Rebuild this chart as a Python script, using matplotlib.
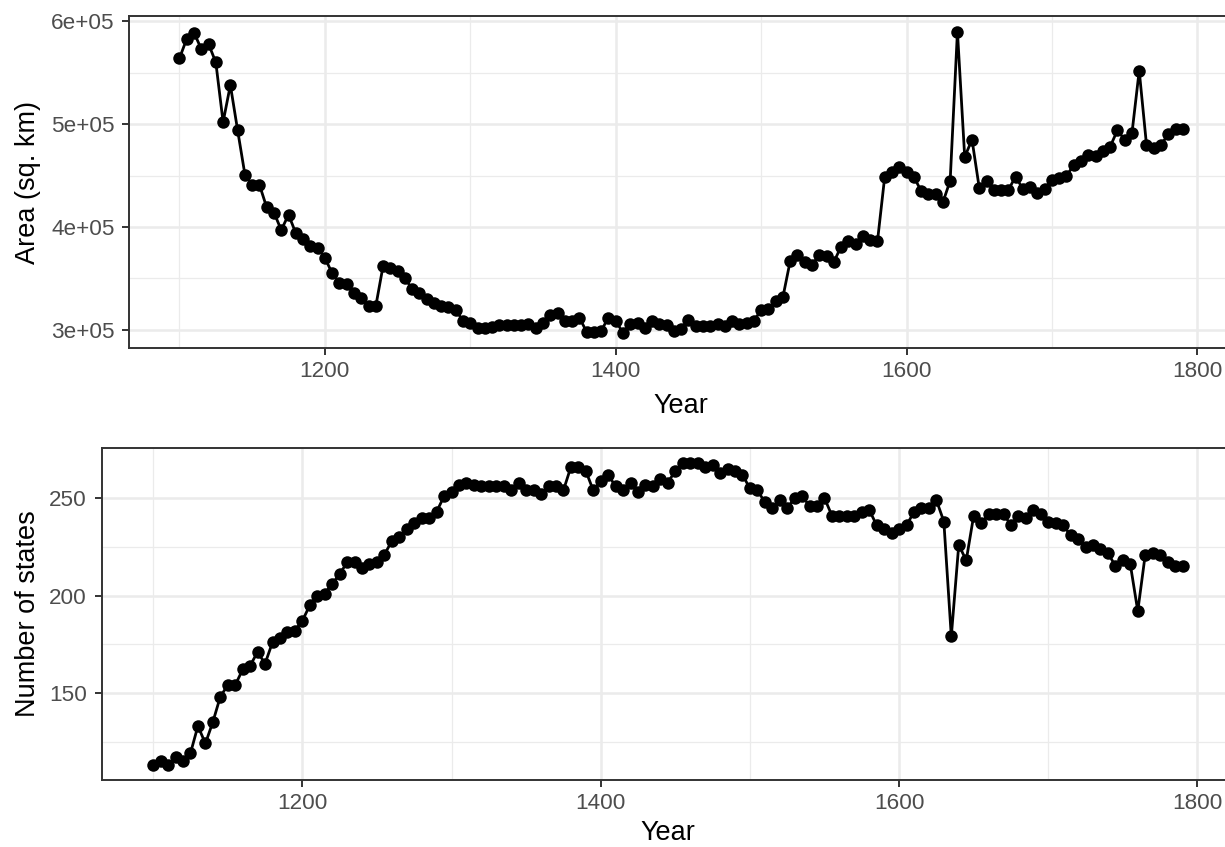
import matplotlib
matplotlib.use("Agg")
import matplotlib.pyplot as plt
from matplotlib.ticker import FixedLocator, FixedFormatter

plt.rcParams['font.family'] = ['Liberation Sans', 'DejaVu Sans']

years = [1100, 1105, 1110, 1115, 1120, 1125, 1130, 1135, 1140, 1145, 1150, 1155, 1160, 1165, 1170, 1175,
         1180, 1185, 1190, 1195, 1200, 1205, 1210, 1215, 1220, 1225, 1230, 1235, 1240, 1245, 1250, 1255,
         1260, 1265, 1270, 1275, 1280, 1285, 1290, 1295, 1300, 1305, 1310, 1315, 1320, 1325, 1330, 1335,
         1340, 1345, 1350, 1355, 1360, 1365, 1370, 1375, 1380, 1385, 1390, 1395, 1400, 1405, 1410, 1415,
         1420, 1425, 1430, 1435, 1440, 1445, 1450, 1455, 1460, 1465, 1470, 1475, 1480, 1485, 1490, 1495,
         1500, 1505, 1510, 1515, 1520, 1525, 1530, 1535, 1540, 1545, 1550, 1555, 1560, 1565, 1570, 1575,
         1580, 1585, 1590, 1595, 1600, 1605, 1610, 1615, 1620, 1625, 1630, 1635, 1640, 1645, 1650, 1655,
         1660, 1665, 1670, 1675, 1680, 1685, 1690, 1695, 1700, 1705, 1710, 1715, 1720, 1725, 1730, 1735,
         1740, 1745, 1750, 1755, 1760, 1765, 1770, 1775, 1780, 1785, 1790]

area = [564000, 583000, 589000, 573000, 578000, 560000, 502000, 538000, 494000, 451000, 441000, 441000,
        419000, 414000, 397000, 412000, 394000, 388000, 382000, 380000, 370000, 355000, 346000, 345000,
        336000, 331000, 323000, 323000, 362000, 360000, 357000, 350000, 340000, 336000, 330000, 326000,
        323000, 322000, 319000, 309000, 307000, 302000, 302000, 303000, 305000, 305000, 305000, 305000,
        306000, 302000, 307000, 314000, 316000, 309000, 309000, 312000, 298000, 298000, 299000, 312000,
        309000, 297000, 306000, 307000, 302000, 309000, 306000, 305000, 299000, 301000, 310000, 304000,
        304000, 304000, 306000, 304000, 309000, 306000, 307000, 309000, 319000, 320000, 328000, 332000,
        367000, 373000, 366000, 363000, 373000, 372000, 366000, 381000, 386000, 383000, 391000, 387000,
        386000, 449000, 453000, 458000, 453000, 449000, 435000, 432000, 432000, 424000, 445000, 590000,
        468000, 485000, 438000, 445000, 436000, 436000, 436000, 449000, 437000, 439000, 433000, 437000,
        446000, 448000, 450000, 460000, 464000, 470000, 469000, 474000, 478000, 494000, 485000, 491000,
        552000, 480000, 477000, 480000, 490000, 495000, 495000]

states = [113, 115, 113, 117, 115, 119, 133, 124, 135, 148, 154, 154, 162, 164, 171, 165,
          176, 178, 181, 182, 187, 195, 200, 201, 206, 211, 217, 217, 214, 216, 217, 221,
          228, 230, 234, 237, 240, 240, 243, 251, 253, 257, 258, 257, 256, 256, 256, 256,
          254, 258, 254, 254, 252, 256, 256, 254, 266, 266, 264, 254, 259, 262, 256, 254,
          258, 253, 257, 256, 260, 258, 264, 268, 268, 268, 266, 267, 263, 265, 264, 262,
          255, 254, 248, 245, 249, 245, 250, 251, 246, 246, 250, 241, 241, 241, 241, 243,
          244, 236, 234, 232, 234, 236, 243, 245, 245, 249, 238, 179, 226, 218, 241, 237,
          242, 242, 242, 236, 241, 240, 244, 242, 238, 237, 236, 231, 229, 225, 226, 224,
          222, 215, 218, 216, 192, 221, 222, 221, 217, 215, 215]

x_ticks = [1200, 1400, 1600, 1800]
x_minor = [1100, 1300, 1500, 1700]
x_tick_labels = ['1200', '1400', '1600', '1800']
area_ticks = [300000, 400000, 500000, 600000]
area_minor = [350000, 450000, 550000]
area_tick_labels = ['3e+05', '4e+05', '5e+05', '6e+05']
states_ticks = [150, 200, 250]
states_minor = [125, 175, 225]
states_tick_labels = ['150', '200', '250']

W, H = 1225, 847
fig = plt.figure(figsize=(W / 100, H / 100), dpi=100)


def px_axes(left, top, right, bottom):
    return fig.add_axes([left / W, 1 - bottom / H, (right - left) / W, (bottom - top) / H])


def expand(vals):
    lo, hi = min(vals), max(vals)
    r = hi - lo
    return lo - 0.05 * r, hi + 0.05 * r


def style(ax, x, y, yt, ymin, ylab, ylabel, label_x_px, left_px, right_px, xpad):
    ax.set_facecolor('white')
    ax.plot(x, y, color='black', lw=2.0, zorder=3)
    ax.plot(x, y, 'o', color='black', ms=9.0, mec='black', mew=0, zorder=4)
    ax.set_xlim(*expand(x))
    ax.set_ylim(*expand(y))
    ax.xaxis.set_major_locator(FixedLocator(x_ticks))
    ax.xaxis.set_major_formatter(FixedFormatter(x_tick_labels))
    ax.xaxis.set_minor_locator(FixedLocator(x_minor))
    ax.yaxis.set_major_locator(FixedLocator(yt))
    ax.yaxis.set_major_formatter(FixedFormatter(ylab))
    ax.yaxis.set_minor_locator(FixedLocator(ymin))
    ax.grid(which='major', color='#EBEBEB', lw=1.8, zorder=0)
    ax.grid(which='minor', color='#EBEBEB', lw=0.9, zorder=0)
    ax.set_axisbelow(True)
    for s in ax.spines.values():
        s.set_color('#333333')
        s.set_linewidth(1.4)
    ax.tick_params(which='major', length=5, width=1.4, color='#333333',
                   labelsize=16.2, labelcolor='#4D4D4D')
    ax.tick_params(axis='x', which='major', pad=4.5)
    ax.tick_params(axis='y', which='major', pad=5.5)
    ax.tick_params(which='minor', length=0)
    ax.set_xlabel('Year', fontsize=19.5, color='black', labelpad=xpad)
    ax.set_ylabel(ylabel, fontsize=19.5, color='black')
    ax.yaxis.set_label_coords((label_x_px - left_px) / (right_px - left_px), 0.5)


ax1 = px_axes(129.3, 16.5, 1233, 348)
style(ax1, years, area, area_ticks, area_minor, area_tick_labels, 'Area (sq. km)', 41, 129.3, 1233, 7.5)

ax2 = px_axes(101.7, 448, 1234, 780)
style(ax2, years, states, states_ticks, states_minor, states_tick_labels, 'Number of states', 41, 101.7, 1234, 4.5)

fig.savefig('out.png', dpi=100, facecolor='white')
